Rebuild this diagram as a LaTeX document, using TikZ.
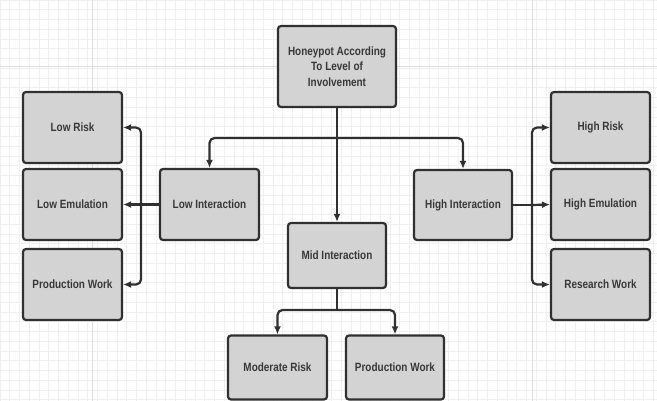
\documentclass[tikz,border=0pt]{standalone}
\usepackage{fontspec}
\setmainfont{Liberation Sans}[FakeStretch=0.83]
\usetikzlibrary{arrows.meta}
\definecolor{boxfill}{HTML}{D3D3D3}
\definecolor{boxline}{HTML}{303030}
\definecolor{txt}{HTML}{383838}
\definecolor{gridc}{HTML}{F0F0F0}
\begin{document}
\begin{tikzpicture}[x=1pt,y=-1pt,
  box/.style={draw=boxline,line width=2.2pt,fill=boxfill,rounded corners=3pt,
    minimum width=99pt,minimum height=71pt,inner sep=2pt,align=center,
    text=txt,font=\bfseries\fontsize{12}{15.5}\selectfont},
  conn/.style={draw=boxline,line width=2.2pt,rounded corners=5pt},
  arr/.style={conn,-{Latex[length=8pt,width=7pt]}}]
\useasboundingbox (0,0) rectangle (657,401);
\fill[white] (0,0) rectangle (657,401);
\draw[gridc,line width=0.6pt] (0,0) grid[step=9.75pt] (657,401);
\draw[gridc!85!gray,line width=0.8pt] (0,66) -- (657,66);
\draw[gridc!85!gray,line width=0.8pt] (92,0) -- (92,401);
\draw[gridc!85!gray,line width=0.8pt] (532,0) -- (532,401);
% nodes
\node[box,minimum width=118pt,minimum height=81pt] (top) at (337,66.5) {Honeypot According\\To Level of\\Involvement};
\node[box] (lowrisk) at (72.5,127.5) {Low Risk};
\node[box] (lowemu) at (72.5,204.5) {Low Emulation};
\node[box] (lowprod) at (72.5,284.5) {Production Work};
\node[box] (low) at (209.5,204.5) {Low Interaction};
\node[box,minimum width=98pt,minimum height=70pt] (high) at (463,205) {High Interaction};
\node[box] (highrisk) at (600.5,127.5) {High Risk};
\node[box] (highemu) at (600.5,204.5) {High Emulation};
\node[box] (research) at (600.5,284.5) {Research Work};
\node[box,minimum width=98pt,minimum height=65pt] (mid) at (337,255.5) {Mid Interaction};
\node[box,minimum height=64pt] (modrisk) at (277.5,367.5) {Moderate Risk};
\node[box,minimum width=98pt,minimum height=64pt] (prodwork) at (395,367.5) {Production Work};
% coordinates
\coordinate (tsplit) at (337,138);
\coordinate (lsplit) at (141,204.5);
\coordinate (hsplit) at (532,205);
\coordinate (msplit) at (337,310);
% connectors
\draw[conn] (top.south) -- (tsplit);
\draw[arr] (tsplit) -| (low.north);
\draw[arr] (tsplit) -| (high.north);
\draw[arr] (tsplit) -- (mid.north);
\draw[conn] (low.west) -- (lsplit);
\draw[arr] (lsplit) |- (lowrisk.east);
\draw[arr] (lsplit) -- (lowemu.east);
\draw[arr] (lsplit) |- (lowprod.east);
\draw[conn] (high.east) -- (hsplit);
\draw[arr] (hsplit) |- (highrisk.west);
\draw[arr] (hsplit) -- (highemu.west);
\draw[arr] (hsplit) |- (research.west);
\draw[conn] (mid.south) -- (msplit);
\draw[arr] (msplit) -| (modrisk.north);
\draw[arr] (msplit) -| (prodwork.north);
\end{tikzpicture}
\end{document}
